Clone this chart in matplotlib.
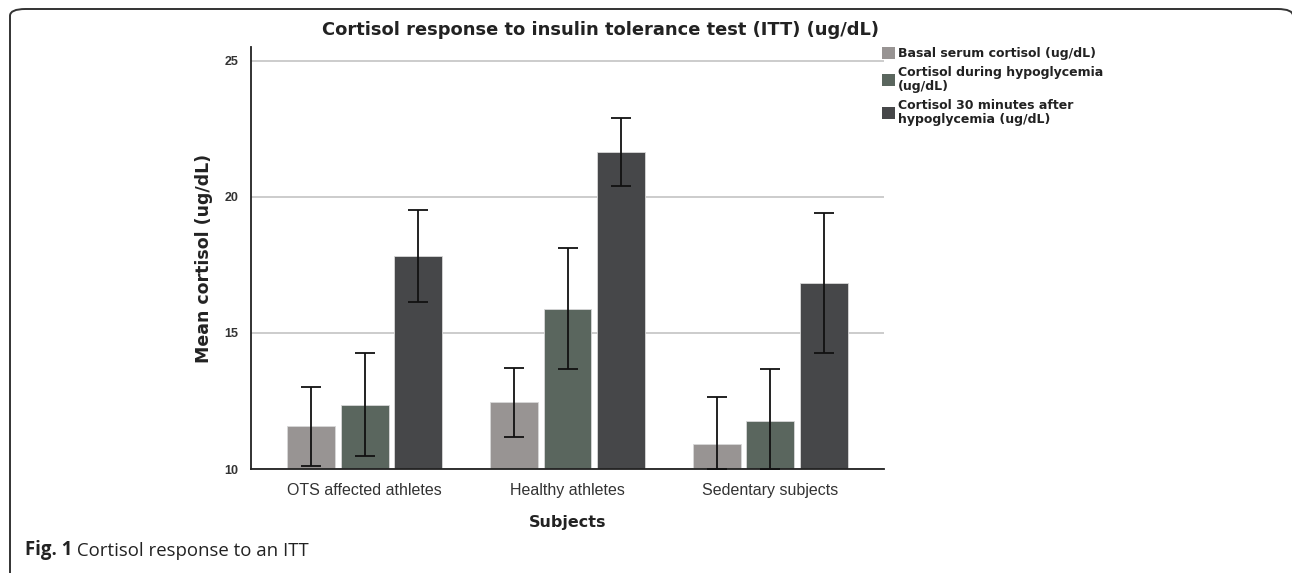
"""
Cortisol response to an insulin tolerance test, grouped bars with error bars.
Writes out.png
"""
import numpy as np
import matplotlib
matplotlib.use("Agg")
import matplotlib.pyplot as plt
from matplotlib.patches import FancyBboxPatch, Patch

plt.rcParams["font.family"] = ["Liberation Sans", "DejaVu Sans"]

# ---- data ---------------------------------------------------------------
groups = ["OTS affected athletes", "Healthy athletes", "Sedentary subjects"]
series = ["Basal serum cortisol (ug/dL)",
          "Cortisol during hypoglycemia\n(ug/dL)",
          "Cortisol 30 minutes after\nhypoglycemia (ug/dL)"]
basal = [11.57, 12.45, 10.90]
basal_err = [1.45, 1.27, 1.75]
hypo = [12.36, 15.89, 11.76]
hypo_err = [1.90, 2.21, 1.93]
after30 = [17.82, 21.64, 16.83]
after30_err = [1.68, 1.24, 2.58]
yticks = [10, 15, 20, 25]

colors = ["#989493", "#5a665e", "#464749"]
BOLD = ["DejaVu Sans"]
W, H = 1292, 573
YMIN = 10

fig = plt.figure(figsize=(W / 100, H / 100), dpi=100)
ax = fig.add_axes([251 / W, 1 - 469 / H, (884 - 251) / W, (469 - 47) / H])

x = np.arange(len(groups))
step, width = 0.265, 0.236
for i, (vals, errs) in enumerate([(basal, basal_err), (hypo, hypo_err),
                                  (after30, after30_err)]):
    vals = np.array(vals)
    errs = np.array(errs)
    pos = x + (i - 1) * step
    ax.bar(pos, vals - YMIN, width, bottom=YMIN, color=colors[i],
           edgecolor="#d8d8d8", linewidth=0.6, zorder=2)
    # lower whisker stops at the axis floor, cap drawn there (as in the source)
    lower = np.minimum(errs, vals - YMIN)
    ax.errorbar(pos, vals, yerr=[lower, errs], fmt="none", ecolor="#111111",
                elinewidth=1.3, capsize=7.5, capthick=1.3, zorder=3,
                clip_on=False)

ax.set_xlim(-0.56, 2.56)
ax.set_ylim(YMIN, 25.5)
ax.set_yticks(yticks)
ax.set_yticklabels([str(t) for t in yticks], fontsize=9, fontweight="bold",
                   color="#333333")
ax.set_xticks(x)
ax.set_xticklabels(groups, fontsize=11.5, color="#333333")
ax.tick_params(axis="y", length=0, pad=9)
ax.tick_params(axis="x", length=0, pad=10)
ax.yaxis.grid(True, color="#c4c4c4", linewidth=1.2, zorder=0)
ax.set_axisbelow(True)
for s in ["top", "right"]:
    ax.spines[s].set_visible(False)
for s in ["left", "bottom"]:
    ax.spines[s].set_color("#222222")
    ax.spines[s].set_linewidth(1.3)

ax.set_ylabel("Mean cortisol (ug/dL)", fontsize=12.5, fontweight="bold",
              family=BOLD, color="#222222")
ax.yaxis.set_label_coords(-0.060, 0.5)
ax.set_xlabel("Subjects", fontsize=11.5, fontweight="bold", family=BOLD,
              color="#222222", labelpad=12)
fig.text(600 / W, 1 - 30 / H, "Cortisol response to insulin tolerance test (ITT) (ug/dL)",
         ha="center", va="center", fontsize=12.9, fontweight="bold", family=BOLD,
         color="#222222")

handles = [Patch(facecolor=c, edgecolor="none") for c in colors]
leg = fig.legend(handles, series, loc="upper left",
                 bbox_to_anchor=(882 / W, 1 - 47 / H), frameon=False,
                 prop={"size": 9, "weight": "bold", "family": BOLD},
                 handlelength=1.05, handleheight=1.05, handletextpad=0.25,
                 labelspacing=0.45, borderaxespad=0, borderpad=0)
for t in leg.get_texts():
    t.set_color("#222222")
    t.set_linespacing(1.12)

# ---- journal frame + caption --------------------------------------------
frame = FancyBboxPatch((10 / W, -0.1), (1293 - 10) / W, 1 - 9 / H + 0.1,
                       boxstyle="round,pad=0,rounding_size=0.012",
                       transform=fig.transFigure, facecolor="none",
                       edgecolor="#333333", linewidth=1.4)
fig.add_artist(frame)
t1 = fig.text(25 / W, 1 - 560 / H, "Fig. 1", fontsize=13.4, fontweight="bold",
              family=["Open Sans", "DejaVu Sans"], color="#222222",
              ha="left", va="bottom")
ax.annotate(" Cortisol response to an ITT", xy=(1, 0), xycoords=t1,
            fontsize=13.4, family=["Open Sans", "DejaVu Sans"], color="#222222",
            ha="left", va="bottom", annotation_clip=False)

fig.savefig("out.png", dpi=100)
